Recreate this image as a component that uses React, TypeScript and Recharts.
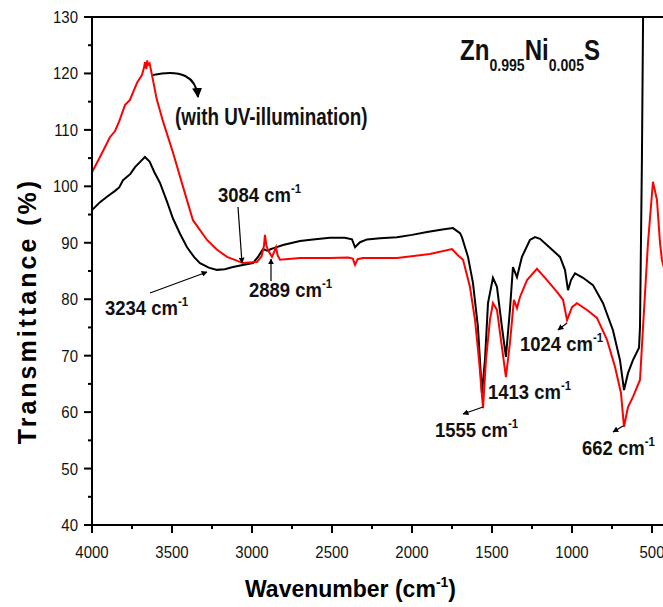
import React from "react";
import { LineChart, Line, XAxis, YAxis, ReferenceLine } from "recharts";

// wavenumber (cm-1) and transmittance (%)
const darkWn = [4000, 3950, 3900, 3856, 3830, 3806, 3760, 3731, 3690, 3669, 3640, 3610, 3575, 3530, 3494, 3450, 3406, 3360, 3325, 3270, 3219, 3170, 3119, 3050, 2994, 2960, 2931, 2905, 2880, 2869, 2806, 2700, 2619, 2513, 2420, 2375, 2356, 2325, 2281, 2200, 2094, 2000, 1906, 1800, 1744, 1700, 1688, 1650, 1619, 1588, 1563, 1544, 1525, 1494, 1469, 1438, 1413, 1388, 1369, 1344, 1313, 1263, 1231, 1200, 1138, 1075, 1044, 1025, 1006, 981, 931, 869, 806, 744, 700, 675, 650, 619, 581, 575, 563, 550, 400];
const darkT = [95.8, 97.2, 98.3, 99.2, 99.8, 101.1, 102.2, 103.4, 104.6, 105.2, 104.4, 102.5, 100.6, 97.2, 94.3, 91.6, 89.2, 87.4, 86.4, 85.6, 85.2, 85.3, 85.7, 86.1, 86.4, 87.6, 88.9, 88.6, 88.9, 89.0, 89.6, 90.3, 90.6, 90.9, 90.9, 90.6, 89.2, 90.1, 90.6, 90.8, 91.0, 91.4, 91.9, 92.4, 92.6, 91.7, 91.0, 87.5, 82.9, 75.1, 63.4, 69.2, 79.3, 83.8, 82.2, 75.1, 69.8, 78.1, 85.7, 83.9, 87.5, 90.5, 91.0, 90.7, 89.1, 87.5, 85.2, 81.6, 83.4, 84.6, 83.8, 82.5, 79.3, 74.5, 69.2, 63.9, 66.9, 69.2, 71.4, 75.1, 104.7, 150, 150];

const uvWn = [4000, 3950, 3888, 3856, 3830, 3794, 3763, 3719, 3688, 3675, 3669, 3660, 3655, 3650, 3640, 3620, 3596, 3556, 3494, 3431, 3369, 3281, 3220, 3156, 3056, 2969, 2940, 2925, 2919, 2910, 2900, 2875, 2860, 2850, 2840, 2825, 2700, 2513, 2400, 2370, 2356, 2340, 2306, 2094, 1888, 1750, 1713, 1681, 1638, 1606, 1581, 1556, 1538, 1513, 1494, 1469, 1444, 1413, 1388, 1363, 1344, 1325, 1281, 1219, 1156, 1094, 1056, 1031, 1000, 969, 906, 844, 781, 731, 694, 675, 650, 619, 575, 556, 525, 494, 469, 450, 438, 425, 400];
const uvT = [102.5, 105.2, 108.7, 109.8, 111.5, 114.4, 115.3, 118.3, 119.7, 121.0, 122.0, 120.8, 122.3, 121.5, 121.8, 119.0, 115.5, 111.5, 106.0, 99.9, 94.0, 90.5, 88.8, 87.5, 86.4, 86.6, 87.6, 89.5, 91.4, 89.5, 88.7, 87.5, 88.5, 89.2, 87.8, 87.0, 87.3, 87.3, 87.4, 87.2, 86.1, 87.1, 87.3, 87.3, 88.0, 88.9, 87.8, 87.0, 82.2, 76.3, 69.2, 60.7, 69.2, 76.3, 79.3, 78.1, 72.8, 66.2, 72.2, 79.9, 78.4, 80.4, 83.4, 85.4, 83.4, 81.3, 79.9, 76.3, 78.6, 79.3, 78.1, 76.7, 72.8, 68.0, 63.4, 57.4, 60.9, 62.7, 65.7, 75.1, 90.0, 100.8, 97.6, 90.0, 87.0, 85.5, 84.0];

const xTicks = [4000, 3750, 3500, 3250, 3000, 2750, 2500, 2250, 2000, 1750, 1500, 1250, 1000, 750, 500];
const yTicks = [40, 45, 50, 55, 60, 65, 70, 75, 80, 85, 90, 95, 100, 105, 110, 115, 120, 125, 130];

const darkData = darkWn.map((wn, i) => ({ wn, t: darkT[i] }));
const uvData = uvWn.map((wn, i) => ({ wn, t: uvT[i] }));

const font = "'Liberation Sans', Arial, sans-serif";

// no narrow font installed, so squeeze the regular one
const NText = ({ x, y, sx = 0.86, anchor = "start", size, bold, children }: any) => (
  <text
    transform={`translate(${x},${y}) scale(${sx},1)`}
    textAnchor={anchor}
    fontFamily={font}
    fontWeight={bold ? "bold" : "normal"}
    fontSize={size}
    fill="#111"
  >
    {children}
  </text>
);

const XTick = (props: any) => {
  const { x, y, payload } = props;
  const major = payload.value % 500 === 0;
  return (
    <g>
      <line x1={x} y1={y} x2={x} y2={y + (major ? 8 : 4)} stroke="#000" strokeWidth={2} />
      {major && (
        <NText x={x} y={y + 33} anchor="middle" size={17} sx={0.88}>
          {payload.value}
        </NText>
      )}
    </g>
  );
};

const YTick = (props: any) => {
  const { x, y, payload } = props;
  const major = payload.value % 10 === 0;
  return (
    <g>
      <line x1={x} y1={y} x2={x - (major ? 8 : 4)} y2={y} stroke="#000" strokeWidth={2} />
      {major && (
        <NText x={x - 14} y={y + 6} anchor="end" size={17} sx={0.88}>
          {payload.value}
        </NText>
      )}
    </g>
  );
};

const Peak = ({ x, y, label }: { x: number; y: number; label: string }) => (
  <NText x={x} y={y} size={21} bold sx={0.88}>
    {label} cm
    <tspan dy={-9} fontSize={13}>-1</tspan>
  </NText>
);

export default function App() {
  return (
    <div style={{ position: "fixed", left: 0, top: 0, width: 663, height: 607, overflow: "hidden", background: "#fff" }}>
      <LineChart
        width={680}
        height={607}
        margin={{ top: 17, right: 12, bottom: 0, left: 0 }}
        style={{ position: "absolute", left: 0, top: 0 }}
      >
        <XAxis
          dataKey="wn"
          type="number"
          domain={[400, 4000]}
          reversed
          allowDataOverflow
          ticks={xTicks}
          interval={0}
          tickLine={false}
          tickSize={0}
          tickMargin={0}
          tick={<XTick />}
          axisLine={{ stroke: "#000", strokeWidth: 2 }}
          height={82}
        />
        <YAxis
          dataKey="t"
          type="number"
          domain={[40, 130]}
          allowDataOverflow
          ticks={yTicks}
          interval={0}
          tickLine={false}
          tickSize={0}
          tickMargin={0}
          tick={<YTick />}
          axisLine={{ stroke: "#000", strokeWidth: 2 }}
          width={92}
        />
        <ReferenceLine y={130} stroke="#000" strokeWidth={2} />
        <Line data={darkData} dataKey="t" type="linear" stroke="#000" strokeWidth={2} dot={false} isAnimationActive={false} />
        <Line data={uvData} dataKey="t" type="linear" stroke="#ff0000" strokeWidth={2} dot={false} isAnimationActive={false} />
      </LineChart>
      <svg width={663} height={607} style={{ position: "absolute", left: 0, top: 0, pointerEvents: "none" }}>
        <defs>
          <marker id="ah" viewBox="0 0 10 10" refX="9" refY="5" markerWidth="5" markerHeight="5" orient="auto-start-reverse">
            <path d="M0,0 L10,5 L0,10 z" fill="#000" />
          </marker>
        </defs>
        <text
          transform="translate(36,311) rotate(-90)"
          textAnchor="middle"
          fontFamily={font}
          fontWeight="bold"
          fontSize={25}
          letterSpacing={3}
          fill="#000"
        >
          Transmittance (%)
        </text>
        <text x={245} y={597} fontFamily={font} fontWeight="bold" fontSize={23} fill="#000">
          Wavenumber (cm
          <tspan dy={-10} fontSize={14}>-1</tspan>
          <tspan dy={10}>)</tspan>
        </text>
        <NText x={460} y={60} size={29} bold sx={0.83}>
          Zn
          <tspan dy={11} fontSize={17}>0.995</tspan>
          <tspan dy={-11}>Ni</tspan>
          <tspan dy={11} fontSize={17}>0.005</tspan>
          <tspan dy={-11}>S</tspan>
        </NText>
        <NText x={175} y={125} size={23} bold sx={0.82}>
          (with UV-illumination)
        </NText>
        <path d="M153,75 Q195,66 198,97" fill="none" stroke="#000" strokeWidth={2} markerEnd="url(#ah)" />
        <Peak x={218} y={202} label="3084" />
        <line x1={238} y1={207} x2={242} y2={263} stroke="#000" strokeWidth={1.2} markerEnd="url(#ah)" />
        <Peak x={105} y={315} label="3234" />
        <line x1={150} y1={293} x2={207} y2={272} stroke="#000" strokeWidth={1.2} markerEnd="url(#ah)" />
        <Peak x={249} y={297} label="2889" />
        <line x1={271} y1={281} x2={271} y2={259} stroke="#000" strokeWidth={1.2} markerEnd="url(#ah)" />
        <Peak x={435} y={437} label="1555" />
        <line x1={483} y1={407} x2={463} y2={414} stroke="#000" strokeWidth={1.2} markerEnd="url(#ah)" />
        <Peak x={488} y={399} label="1413" />
        <Peak x={520} y={351} label="1024" />
        <line x1={567} y1={323} x2={558} y2={330} stroke="#000" strokeWidth={1.2} markerEnd="url(#ah)" />
        <Peak x={582} y={455} label="662" />
        <line x1={623} y1={426} x2={613} y2={432} stroke="#000" strokeWidth={1.2} markerEnd="url(#ah)" />
      </svg>
    </div>
  );
}
